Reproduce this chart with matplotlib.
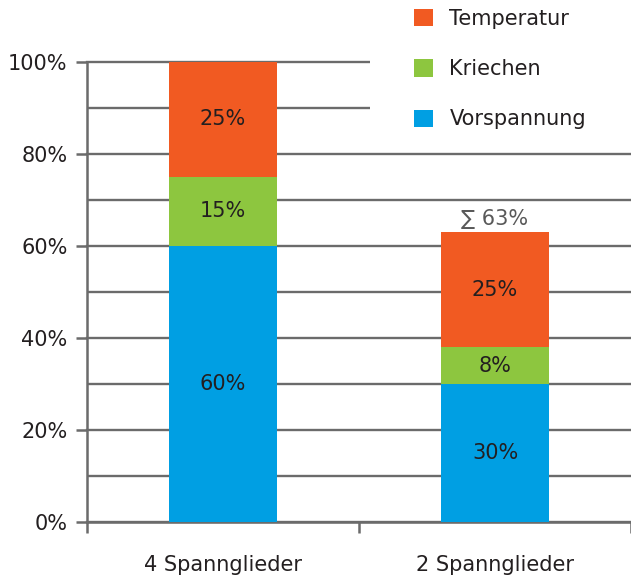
import matplotlib
matplotlib.use('Agg')
import matplotlib.pyplot as plt
from matplotlib.patches import Patch, Rectangle
import numpy as np

plt.rcParams['font.family'] = ['DejaVu Sans']

# Datos
categorias = ['4 Spannglieder', '2 Spannglieder']
vorspannung = [60, 30]
kriechen = [15, 8]
temperatur = [25, 25]
serien = ['Vorspannung', 'Kriechen', 'Temperatur']
farben = ['#009FE3', '#8DC63F', '#F15A22']
summe_label = '∑ 63%'

grau = '#6b6b6b'
fs = 15

fig = plt.figure(figsize=(6.31, 5.82), dpi=100)
ax = fig.add_axes([87 / 631, 60 / 582, 544 / 631, 460 / 582])

x = np.arange(len(categorias))
werte = [vorspannung, kriechen, temperatur]
unten = np.zeros(len(categorias))
for name, vals, col in zip(serien, werte, farben):
    bars = ax.bar(x, vals, bottom=unten, width=0.4, color=col, label=name, zorder=3)
    for b, v, u in zip(bars, vals, unten):
        ax.text(b.get_x() + b.get_width() / 2, u + v / 2, f'{v}%',
                ha='center', va='center', fontsize=fs, color='#231f20', zorder=4)
    unten = unten + np.array(vals)

# Summe über dem zweiten Balken
ax.text(x[1], unten[1] + 0.8, summe_label, ha='center', va='bottom',
        fontsize=fs, color='#595959')

ax.set_xlim(-0.5, 1.5)
ax.set_ylim(0, 100)

ax.set_yticks(np.arange(0, 101, 20))
ax.set_yticks(np.arange(10, 100, 20), minor=True)
ax.set_yticklabels([f'{int(t)}%' for t in np.arange(0, 101, 20)])
ax.tick_params(axis='y', which='major', length=8, width=1.8, color=grau,
               labelsize=fs, labelcolor='#231f20', pad=6)
ax.tick_params(axis='y', which='minor', length=0)

ax.set_xticks([-0.5, 0.5, 1.5])
ax.set_xticklabels(['', '', ''])
ax.set_xticks(x, minor=True)
ax.set_xticklabels(categorias, minor=True)
ax.tick_params(axis='x', which='major', length=8, width=1.8, color=grau)
ax.tick_params(axis='x', which='minor', length=0, labelsize=fs,
               labelcolor='#231f20', pad=24)

ax.grid(True, axis='y', which='both', color=grau, linewidth=1.7, zorder=1)
ax.set_axisbelow(True)
for gl in ax.get_ygridlines() + ax.yaxis.get_minorticklines():
    gl.set_clip_on(False)
for s in ['top', 'right']:
    ax.spines[s].set_visible(False)
for s in ['left', 'bottom']:
    ax.spines[s].set_color(grau)
    ax.spines[s].set_linewidth(1.8)

# Weißer Hintergrund der Legende
fig.patches.append(Rectangle((370 / 631, 1 - 135 / 582), 1, 135 / 582,
                             transform=fig.transFigure, facecolor='white',
                             edgecolor='none', zorder=5))

handles = [Patch(facecolor=c, edgecolor='none') for c in farben[::-1]]
leg = fig.legend(handles, serien[::-1], loc='upper left',
                 bbox_to_anchor=(414 / 631, 1 - 9 / 582), frameon=False,
                 fontsize=fs, handlelength=0.9, handleheight=0.9,
                 handletextpad=0.8, labelspacing=1.45, borderpad=0,
                 borderaxespad=0)
leg.set_zorder(6)
for t in leg.get_texts():
    t.set_color('#231f20')

fig.savefig('out.png', dpi=100)
